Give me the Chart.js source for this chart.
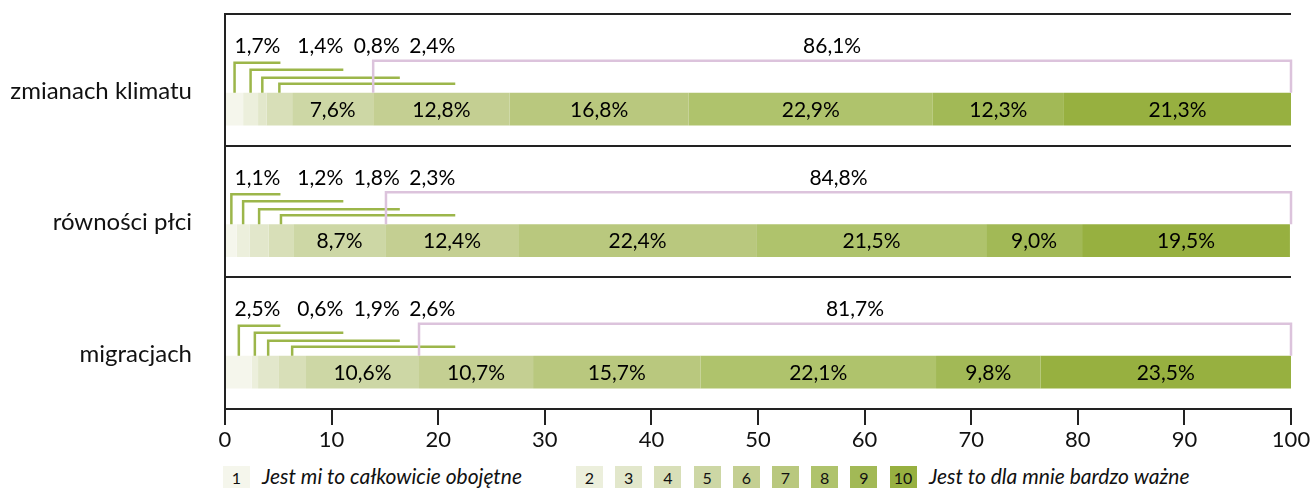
<!DOCTYPE html>
<html>
<head>
<meta charset="utf-8">
<script src="https://cdn.jsdelivr.net/npm/chart.js@4"></script>
<style>
  body { margin: 0; background: #fff; font-family: Lato, sans-serif; }
  #wrap { position: relative; width: 1314px; height: 455px; }
  #legend { position: absolute; top: 466px; left: 223px; height: 22px; color: #111; }
  .box { position: absolute; top: 0; width: 27px; height: 22px; font-size: 16px; line-height: 23px; text-align: center; }
  .txt { position: absolute; top: -2px; font-size: 21px; font-style: italic; line-height: 24px; white-space: nowrap; }
</style>
</head>
<body>
<div id="wrap"><canvas id="myChart" width="1314" height="455"></canvas></div>
<div id="legend"></div>
<script>
var categories = ['zmianach klimatu', 'równości płci', 'migracjach'];
var scaleLevels = ['1', '2', '3', '4', '5', '6', '7', '8', '9', '10'];
var series = [
    [1.7, 1.1, 2.5],
    [1.4, 1.2, 0.6],
    [0.8, 1.8, 1.9],
    [2.4, 2.3, 2.6],
    [7.6, 8.7, 10.6],
    [12.8, 12.4, 10.7],
    [16.8, 22.4, 15.7],
    [22.9, 21.5, 22.1],
    [12.3, 9.0, 9.8],
    [21.3, 19.5, 23.5]
];
var topShare = [86.1, 84.8, 81.7];
var colors = ['#f5f6ec', '#ecefdc', '#e2e7cb', '#d8dfb8', '#cdd7a5',
              '#c4cf92', '#b9c87e', '#afc36c', '#a2b956', '#97b040'];
var tickValues = [0, 10, 20, 30, 40, 50, 60, 70, 80, 90, 100];
var legendLow = 'Jest mi to całkowicie obojętne';
var legendHigh = 'Jest to dla mnie bardzo ważne';

// where the small-share labels end, in axis units
var smallLabelEnd = [5.2, 11.1, 16.4, 21.6];
var bracketRise = [30, 23, 15, 9];

function fmt(v) {
    return v.toFixed(1).replace('.', ',') + '%';
}

var labelPlugin = {
    id: 'labels',
    afterDatasetsDraw: function (chart) {
        var ctx = chart.ctx;
        var xs = chart.scales.x;
        ctx.save();
        ctx.font = '21px Lato';
        ctx.fillStyle = '#000';
        ctx.textBaseline = 'middle';
        for (var r = 0; r < categories.length; r++) {
            var first = chart.getDatasetMeta(1).data[r];
            var top = first.y - first.height / 2;
            // small shares with green brackets
            ctx.strokeStyle = '#9cb64a';
            ctx.lineWidth = 2.5;
            for (var k = 0; k < 4; k++) {
                var b = chart.getDatasetMeta(k + 1).data[r];
                var cx = (b.x + b.base) / 2;
                var lvl = top - bracketRise[k];
                var ex = xs.getPixelForValue(smallLabelEnd[k]);
                ctx.beginPath();
                ctx.moveTo(cx, top);
                ctx.lineTo(cx, lvl);
                ctx.lineTo(ex, lvl);
                ctx.stroke();
                ctx.textAlign = 'right';
                ctx.fillText(fmt(series[k][r]), ex, top - 46);
            }
            // pink bracket over levels 6-10
            var b6 = chart.getDatasetMeta(6).data[r];
            var x0 = b6.base;
            var x1 = xs.getPixelForValue(100);
            var lv = top - 32;
            ctx.strokeStyle = '#dcc3dc';
            ctx.beginPath();
            ctx.moveTo(x0, top);
            ctx.lineTo(x0, lv);
            ctx.lineTo(x1, lv);
            ctx.lineTo(x1, top);
            ctx.stroke();
            ctx.textAlign = 'center';
            ctx.fillText(fmt(topShare[r]), (x0 + x1) / 2, top - 46);
            // values inside bars
            for (var d = 4; d < 10; d++) {
                var bb = chart.getDatasetMeta(d + 1).data[r];
                ctx.fillText(fmt(series[d][r]), (bb.x + bb.base) / 2, bb.y + 1);
            }
        }
        ctx.restore();
    }
};

function buildLegend() {
    var lg = document.getElementById('legend');
    var html = '<div class="box" style="left:0;background:' + colors[0] + '">1</div>' +
        '<div class="txt" style="left:39px">' + legendLow + '</div>';
    for (var i = 1; i < 10; i++) {
        var left = 353 + (i - 1) * 39.2;
        html += '<div class="box" style="left:' + left + 'px;background:' + colors[i] + '">' + scaleLevels[i] + '</div>';
    }
    html += '<div class="txt" style="left:706px">' + legendHigh + '</div>';
    lg.innerHTML = html;
}

function chartTest() {
    var datasets = [{
        label: 'gap',
        stack: 'gap',
        data: categories.map(function () { return 0; }),
        backgroundColor: 'rgba(0,0,0,0)',
        borderWidth: 0
    }];
    for (var i = 0; i < series.length; i++) {
        datasets.push({
            label: scaleLevels[i],
            stack: 'main',
            data: series[i],
            backgroundColor: colors[i],
            borderWidth: 0
        });
    }
    new Chart(document.getElementById('myChart'), {
        type: 'bar',
        data: { labels: categories, datasets: datasets },
        options: {
            indexAxis: 'y',
            responsive: false,
            animation: false,
            barPercentage: 0.568,
            categoryPercentage: 0.88,
            layout: { padding: { left: 8, right: 23, top: 13, bottom: 0 } },
            plugins: { legend: { display: false }, tooltip: { enabled: false } },
            scales: {
                x: {
                    stacked: true,
                    min: 0,
                    max: 100,
                    afterBuildTicks: function (s) {
                        s.ticks = tickValues.map(function (v) { return { value: v }; });
                    },
                    afterFit: function (s) { s.height = 46; },
                    grid: { drawOnChartArea: false, drawTicks: true, tickLength: 16, color: '#222', lineWidth: 2 },
                    border: { display: true, color: '#222', width: 2 },
                    ticks: { font: { family: 'Lato', size: 22 }, color: '#111', padding: 2, maxRotation: 0 }
                },
                y: {
                    stacked: true,
                    offset: true,
                    afterFit: function (s) { s.width = 217; },
                    grid: {
                        offset: true, drawTicks: true, tickLength: 33,
                        tickColor: 'rgba(0,0,0,0)', color: '#222', lineWidth: 2
                    },
                    border: { display: true, color: '#222', width: 2 },
                    ticks: { font: { family: 'Lato', size: 24 }, color: '#111', padding: 0, labelOffset: 11 }
                }
            }
        },
        plugins: [labelPlugin]
    });
}

buildLegend();
document.fonts.load('20px Lato').then(chartTest, chartTest);
</script>
</body>
</html>
